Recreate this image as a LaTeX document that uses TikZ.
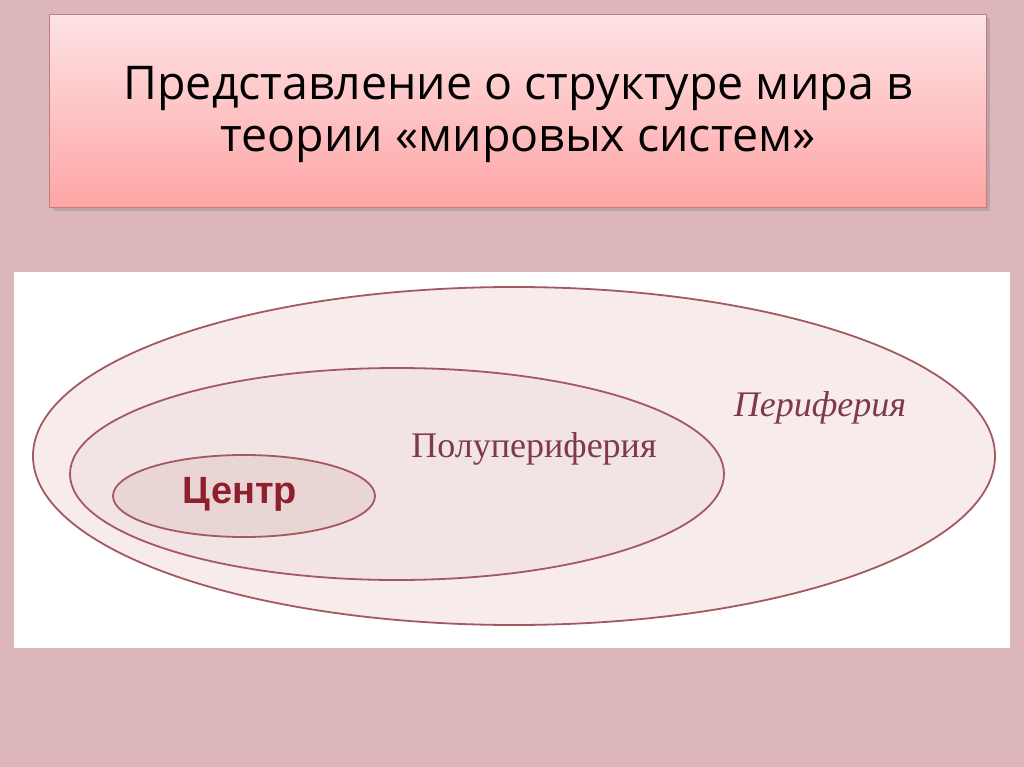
\documentclass[tikz,border=0pt]{standalone}
\usepackage{fontspec}
\setmainfont{Open Sans}
\newfontfamily\serifrus{Liberation Serif}
\newfontfamily\boldsans{Liberation Sans}
\usetikzlibrary{shadows}
\definecolor{bgpink}{HTML}{DDB6BC}
\definecolor{titletop}{HTML}{FDE2E4}
\definecolor{titlebot}{HTML}{FFA5A5}
\definecolor{titleline}{HTML}{C47C7E}
\definecolor{ringline}{HTML}{A45860}
\definecolor{outerfill}{HTML}{F7EBEB}
\definecolor{midfill}{HTML}{F2E4E4}
\definecolor{innerfill}{HTML}{EAD5D5}
\definecolor{centertext}{HTML}{8E1F2C}
\definecolor{labeltext}{HTML}{7E3A48}
\tikzset{
  ring/.style={draw=ringline, line width=1.8pt},
  label/.style={inner sep=0pt, text=labeltext},
}
\begin{document}
\begin{tikzpicture}[x=1pt,y=-1pt]
\fill[bgpink] (0,0) rectangle (1024,767);
\useasboundingbox (0,0) rectangle (1024,767);
% title box
\node[draw=titleline, line width=1pt, top color=titletop, bottom color=titlebot,
  minimum width=937pt, minimum height=193pt, anchor=north west,
  drop shadow={shadow xshift=3pt, shadow yshift=-4pt, opacity=0.35}] (title) at (49,14) {};
\node[align=center, font=\fontsize{46.5}{52}\selectfont, text=black] (titletext) at (518,114)
  {Представление о структуре мира в\\теории «мировых систем»};
% white panel
\node[fill=white, minimum width=996pt, minimum height=376pt, anchor=north west, inner sep=0pt] (panel) at (14,272) {};
% ellipses
\fill[outerfill] (514,456) ellipse [x radius=481, y radius=169];
\draw[ring] (514,456) ellipse [x radius=481, y radius=169];
\coordinate (outer) at (514,456);
\fill[midfill] (397,474) ellipse [x radius=327, y radius=106];
\draw[ring] (397,474) ellipse [x radius=327, y radius=106];
\coordinate (mid) at (397,474);
\fill[innerfill] (244,496) ellipse [x radius=131, y radius=41];
\draw[ring] (244,496) ellipse [x radius=131, y radius=41];
\coordinate (inner) at (244,496);
% labels
\node[inner sep=0pt, text=centertext, font=\boldsans\bfseries\fontsize{38}{38}\selectfont] (centr) at (240,494) {Центр};
\node[label, font=\serifrus\fontsize{36}{36}\selectfont] (semi) at (534,449) {Полупериферия};
\node[label, font=\serifrus\itshape\fontsize{36}{36}\selectfont] (peri) at (820,408) {Периферия};
\end{tikzpicture}
\end{document}
